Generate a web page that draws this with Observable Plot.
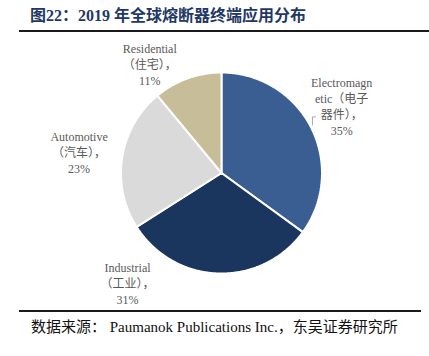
<!DOCTYPE html>
<html><head><meta charset="utf-8">
<script src="https://cdn.jsdelivr.net/npm/d3@7"></script>
<script src="https://cdn.jsdelivr.net/npm/@observablehq/plot@0.6"></script>
<style>
html,body{margin:0;padding:0;background:#fff;}
#page{position:relative;width:429px;height:356px;overflow:hidden;background:#fff;}
#title{position:absolute;left:30px;top:6px;font:bold 16px "Liberation Serif","Noto Sans CJK SC",serif;color:#1f3864;white-space:nowrap;line-height:20px;}
.rule{position:absolute;left:19px;height:2px;background:#1a1a1a;}
#chart{position:absolute;left:0;top:36px;}
#caption{position:absolute;left:31px;top:317px;font:15px "Liberation Serif","Noto Sans CJK SC",serif;color:#111;white-space:nowrap;line-height:20px;}
</style></head><body>
<div id="page">
<div id="title">图22：2019 年全球熔断器终端应用分布</div>
<div class="rule" style="top:30px;width:410px"></div>
<div id="chart"></div>
<div class="rule" style="top:310px;width:402px"></div>
<div id="caption">数据来源： Paumanok Publications Inc.，东吴证券研究所</div>
</div>
<script>
// ---- data ----
const categories = ["Electromagnetic", "Industrial", "Automotive", "Residential"];
const shares = [35, 31, 23, 11];
const labelLines = [
  ["Electromagn", "etic（电子", "器件），"],
  ["Industrial", "（工业），"],
  ["Automotive", "（汽车），"],
  ["Residential", "（住宅），"]
];
const sliceColors = ["#3b5e92", "#1b365e", "#dadada", "#c7bd98"];

// ---- layout (label placement: angle in degrees clockwise from 12 o'clock, radius in pie radii) ----
const labelAngle = [60.8, 220.6, 278.3, 326.8];
const labelRadius = [1.37, 1.436, 1.432, 1.303];

const W = 429, H = 272, R = 100.5, CX = 221, CY = 136.5;

// build wedge outlines in unit coordinates
const total = d3.sum(shares);
const wedges = [];
let acc = 0;
categories.forEach((name, i) => {
  const a0 = acc / total * 2 * Math.PI;
  acc += shares[i];
  const a1 = acc / total * 2 * Math.PI;
  const n = Math.max(2, Math.ceil((a1 - a0) / (Math.PI / 360)));
  wedges.push({name, x: 0, y: 0});
  for (let k = 0; k <= n; k++) {
    const a = a0 + (a1 - a0) * k / n;
    wedges.push({name, x: Math.sin(a), y: Math.cos(a)});
  }
  wedges.push({name, x: 0, y: 0});
});

const labels = categories.map((name, i) => {
  const a = labelAngle[i] * Math.PI / 180;
  return {
    name,
    x: labelRadius[i] * Math.sin(a),
    y: labelRadius[i] * Math.cos(a),
    text: [...labelLines[i], shares[i] + "%"].join("\n")
  };
});

// small elbow leader for the Electromagnetic label
const e = labels[0];
const leader = [
  {x: e.x - 0.261, y: e.y - 0.11},
  {x: e.x - 0.291, y: e.y - 0.11},
  {x: e.x - 0.291, y: e.y - 0.191}
];

const chart = Plot.plot({
  width: W,
  height: H,
  margin: 0,
  x: {domain: [-CX / R, (W - CX) / R], axis: null},
  y: {domain: [-(H - CY) / R, CY / R], axis: null},
  color: {domain: categories, range: sliceColors},
  style: {background: "transparent", overflow: "visible"},
  marks: [
    Plot.line(wedges, {x: "x", y: "y", z: "name", fill: "name", stroke: "white", strokeWidth: 2, curve: "linear", strokeLinejoin: "miter"}),
    Plot.line(leader, {x: "x", y: "y", stroke: "#a6a6a6", strokeWidth: 1}),
    Plot.text(labels, {x: "x", y: "y", text: "text", fontSize: 12, lineHeight: 1.333, fill: "#595959", fontFamily: "'Liberation Serif','Noto Sans CJK SC',serif", textAnchor: "middle"})
  ]
});
document.getElementById("chart").appendChild(chart);
</script>
</body></html>
